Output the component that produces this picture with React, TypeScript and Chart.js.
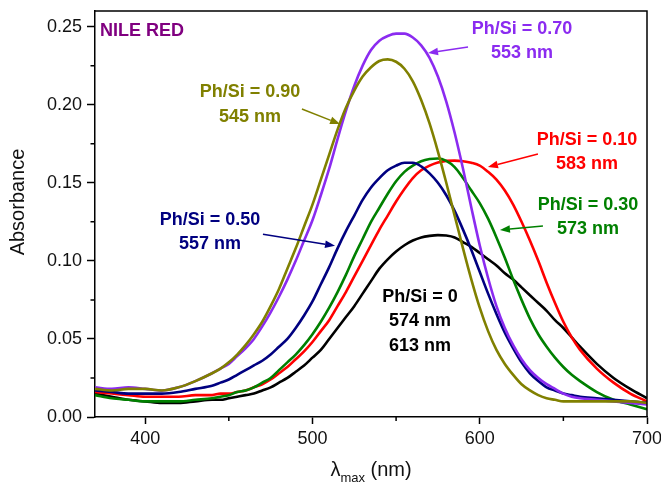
import React, { useEffect, useRef } from 'react';
import { Chart, registerables } from 'chart.js';

Chart.register(...registerables);

// ---------- data ----------
const wavelengths = [
  370, 380, 390, 400, 410, 420, 430,
  440, 445, 450, 455, 460, 465, 470, 475, 480, 485, 490, 495,
  500, 505, 510, 515, 520, 525, 530, 535, 540, 545, 550, 555, 560, 565, 570, 575, 580,
  585, 590, 595, 600, 605, 610, 615, 620, 625, 630, 635, 640, 645, 650, 655, 660,
  670, 680, 690, 700,
];

const absPh090 = [
  0.018, 0.017, 0.018, 0.018, 0.017, 0.019, 0.023,
  0.028, 0.031, 0.035, 0.040, 0.046, 0.053, 0.061, 0.071, 0.082, 0.095, 0.108, 0.122,
  0.136, 0.152, 0.168, 0.184, 0.198, 0.209, 0.218, 0.224, 0.228, 0.229, 0.2275, 0.223, 0.215, 0.203, 0.188, 0.170, 0.150,
  0.129, 0.108, 0.088, 0.070, 0.055, 0.043, 0.034, 0.027, 0.021, 0.017, 0.014, 0.012, 0.011, 0.010, 0.010, 0.010,
  0.010, 0.010, 0.010, 0.009,
];

const absPh070 = [
  0.019, 0.018, 0.019, 0.018, 0.017, 0.019, 0.023,
  0.028, 0.031, 0.034, 0.039, 0.044, 0.050, 0.058, 0.067, 0.077, 0.088, 0.100, 0.113,
  0.126, 0.142, 0.159, 0.178, 0.196, 0.212, 0.225, 0.235, 0.241, 0.244, 0.2455, 0.2455, 0.243, 0.238, 0.230, 0.218, 0.202,
  0.182, 0.159, 0.134, 0.110, 0.089, 0.071, 0.057, 0.046, 0.037, 0.030, 0.025, 0.021, 0.018, 0.015, 0.013, 0.012,
  0.011, 0.010, 0.009, 0.008,
];

const absPh050 = [
  0.017, 0.016, 0.015, 0.015, 0.015, 0.016, 0.018,
  0.020, 0.022, 0.024, 0.027, 0.030, 0.033, 0.036, 0.040, 0.045, 0.050, 0.057, 0.065,
  0.074, 0.085, 0.096, 0.108, 0.119, 0.129, 0.139, 0.147, 0.153, 0.158, 0.161, 0.1628, 0.1628, 0.1605, 0.156, 0.150, 0.142,
  0.132, 0.120, 0.107, 0.093, 0.079, 0.066, 0.054, 0.044, 0.035, 0.028, 0.023, 0.019, 0.017, 0.015, 0.014, 0.013,
  0.012, 0.011, 0.010, 0.009,
];

const absPh030 = [
  0.014, 0.012, 0.011, 0.010, 0.010, 0.010, 0.011,
  0.012, 0.013, 0.014, 0.016, 0.017, 0.019, 0.022, 0.025, 0.030, 0.035, 0.040, 0.046,
  0.053, 0.061, 0.070, 0.080, 0.091, 0.103, 0.114, 0.125, 0.134, 0.143, 0.151, 0.157, 0.161, 0.1638, 0.1652, 0.1655, 0.164,
  0.160, 0.153, 0.145, 0.137, 0.127, 0.115, 0.102, 0.088, 0.075, 0.063, 0.053, 0.045, 0.038, 0.032, 0.027, 0.023,
  0.016, 0.011, 0.008, 0.005,
];

const absPh010 = [
  0.016, 0.015, 0.014, 0.013, 0.013, 0.013, 0.014,
  0.014, 0.015, 0.015, 0.016, 0.017, 0.019, 0.021, 0.024, 0.028, 0.032, 0.037, 0.042,
  0.048, 0.055, 0.062, 0.071, 0.080, 0.090, 0.100, 0.110, 0.120, 0.129, 0.138, 0.146, 0.153, 0.158, 0.161, 0.163, 0.164,
  0.1642, 0.1638, 0.1628, 0.161, 0.157, 0.152, 0.145, 0.136, 0.125, 0.113, 0.100, 0.086, 0.073, 0.061, 0.051, 0.043,
  0.031, 0.022, 0.015, 0.010,
];

const absPh000 = [
  0.015, 0.013, 0.011, 0.010, 0.009, 0.009, 0.010,
  0.011, 0.011, 0.012, 0.013, 0.014, 0.015, 0.017, 0.019, 0.022, 0.025, 0.029, 0.033,
  0.038, 0.043, 0.050, 0.057, 0.064, 0.071, 0.079, 0.087, 0.095, 0.101, 0.106, 0.110, 0.113, 0.115, 0.116, 0.1165, 0.1162,
  0.115, 0.112, 0.109, 0.105, 0.101, 0.097, 0.092, 0.088, 0.083, 0.078, 0.073, 0.068, 0.062, 0.057, 0.051, 0.045,
  0.034, 0.025, 0.018, 0.012,
];

const seriesNames = ['Ph/Si = 0.90', 'Ph/Si = 0.70', 'Ph/Si = 0.50', 'Ph/Si = 0.30', 'Ph/Si = 0.10', 'Ph/Si = 0'];
const seriesValues = [absPh090, absPh070, absPh050, absPh030, absPh010, absPh000];

const xTickValues = [400, 500, 600, 700];
const xMinorTicks = [450, 550, 650];
const yTickValues = [0, 0.05, 0.1, 0.15, 0.2, 0.25];
const yMinorTicks = [0.025, 0.075, 0.125, 0.175, 0.225];

const titleText = 'NILE RED';
const peakLabels = [
  ['Ph/Si = 0.90', '545 nm'],
  ['Ph/Si = 0.70', '553 nm'],
  ['Ph/Si = 0.50', '557 nm'],
  ['Ph/Si = 0.30', '573 nm'],
  ['Ph/Si = 0.10', '583 nm'],
  ['Ph/Si = 0', '574 nm', '613 nm'],
];

// ---------- styles ----------
const COLORS = ['#808000', '#8B2BF0', '#000080', '#008000', '#FF0000', '#000000'];
const PURPLE = '#800080';
const FONT = '"Liberation Sans", Arial, Helvetica, sans-serif';

// label anchor (data coords) and arrow (from -> to, data coords)
const labelPlacement: { at: [number, number]; arrow?: [[number, number], [number, number]] }[] = [
  { at: [462.7, 0.2081], arrow: [[493.7, 0.1972], [516.5, 0.1876]] },
  { at: [625.3, 0.2485], arrow: [[593.0, 0.2369], [569.1, 0.2331]] },
  { at: [438.7, 0.1262], arrow: [[470.4, 0.117], [513.5, 0.1097]] },
  { at: [664.7, 0.1358], arrow: [[637.8, 0.1223], [612.1, 0.1198]] },
  { at: [664.1, 0.1774], arrow: [[634.8, 0.1684], [604.9, 0.1601]] },
  { at: [564.3, 0.077] },
];
const titlePlacement: [number, number] = [373.0, 0.2472];

const decorPlugin = {
  id: 'decor',
  afterDraw(chart: any) {
    const ctx = chart.ctx as CanvasRenderingContext2D;
    const xs = chart.scales.x;
    const ys = chart.scales.y;
    const area = chart.chartArea;
    ctx.save();

    // frame top & right
    ctx.strokeStyle = '#000';
    ctx.lineWidth = 1.5;
    ctx.beginPath();
    ctx.moveTo(area.left, area.top);
    ctx.lineTo(area.right, area.top);
    ctx.lineTo(area.right, area.bottom);
    ctx.stroke();

    // minor ticks
    ctx.beginPath();
    for (const v of xMinorTicks) {
      const px = xs.getPixelForValue(v);
      ctx.moveTo(px, area.bottom);
      ctx.lineTo(px, area.bottom + 4);
    }
    for (const v of yMinorTicks) {
      const py = ys.getPixelForValue(v);
      ctx.moveTo(area.left, py);
      ctx.lineTo(area.left - 4.5, py);
    }
    ctx.stroke();

    // axis titles
    ctx.fillStyle = '#111';
    ctx.font = `20px ${FONT}`;
    ctx.textBaseline = 'middle';
    ctx.textAlign = 'center';
    ctx.save();
    ctx.translate(18, 202);
    ctx.rotate(-Math.PI / 2);
    ctx.fillText('Absorbance', 0, 0);
    ctx.restore();

    // x title: λ_max (nm)
    const lam = 'λ';
    const sub = 'max';
    const rest = ' (nm)';
    ctx.font = `20px ${FONT}`;
    const wl = ctx.measureText(lam).width;
    const wr = ctx.measureText(rest).width;
    ctx.font = `13px ${FONT}`;
    const ws = ctx.measureText(sub).width;
    const total = wl + ws + wr;
    const cx = (area.left + area.right) / 2;
    let x0 = cx - total / 2;
    const yb = 476;
    ctx.textAlign = 'left';
    ctx.textBaseline = 'alphabetic';
    ctx.font = `20px ${FONT}`;
    ctx.fillText(lam, x0, yb);
    x0 += wl;
    ctx.font = `13px ${FONT}`;
    ctx.fillText(sub, x0, yb + 6);
    x0 += ws;
    ctx.font = `20px ${FONT}`;
    ctx.fillText(rest, x0, yb);

    // NILE RED
    ctx.font = `bold 18px ${FONT}`;
    ctx.fillStyle = PURPLE;
    ctx.textAlign = 'left';
    ctx.textBaseline = 'middle';
    ctx.fillText(titleText, xs.getPixelForValue(titlePlacement[0]), ys.getPixelForValue(titlePlacement[1]));

    // peak labels + arrows
    peakLabels.forEach((lines, i) => {
      const p = labelPlacement[i];
      const color = COLORS[i];
      ctx.fillStyle = color;
      ctx.strokeStyle = color;
      ctx.font = `bold 18px ${FONT}`;
      ctx.textAlign = 'center';
      ctx.textBaseline = 'middle';
      const lx = xs.getPixelForValue(p.at[0]);
      const ly = ys.getPixelForValue(p.at[1]);
      lines.forEach((t, k) => ctx.fillText(t, lx, ly + k * 24.5));
      if (p.arrow) {
        const [a, b] = p.arrow;
        const x1 = xs.getPixelForValue(a[0]);
        const y1 = ys.getPixelForValue(a[1]);
        const x2 = xs.getPixelForValue(b[0]);
        const y2 = ys.getPixelForValue(b[1]);
        const ang = Math.atan2(y2 - y1, x2 - x1);
        const hl = 10;
        const hw = 3.8;
        const bx = x2 - hl * Math.cos(ang);
        const by = y2 - hl * Math.sin(ang);
        ctx.lineWidth = 1.5;
        ctx.beginPath();
        ctx.moveTo(x1, y1);
        ctx.lineTo(bx, by);
        ctx.stroke();
        ctx.beginPath();
        ctx.moveTo(x2, y2);
        ctx.lineTo(bx + hw * Math.sin(ang), by - hw * Math.cos(ang));
        ctx.lineTo(bx - hw * Math.sin(ang), by + hw * Math.cos(ang));
        ctx.closePath();
        ctx.fill();
      }
    });

    ctx.restore();
  },
};

export default function App() {
  const canvasRef = useRef<HTMLCanvasElement | null>(null);

  useEffect(() => {
    const canvas = canvasRef.current;
    if (!canvas) return;
    const datasets = seriesValues.map((vals, i) => ({
      label: seriesNames[i],
      data: wavelengths.map((w, j) => ({ x: w, y: vals[j] })),
      borderColor: COLORS[i],
      backgroundColor: COLORS[i],
      borderWidth: 2.6,
      pointRadius: 0,
      fill: false,
      cubicInterpolationMode: 'monotone' as const,
    }));

    const chart = new Chart(canvas, {
      type: 'line',
      data: { datasets },
      options: {
        animation: false,
        responsive: false,
        devicePixelRatio: 1,
        layout: { padding: { top: 11, right: 14, left: 0, bottom: 0 } },
        plugins: {
          legend: { display: false },
          tooltip: { enabled: false },
          title: { display: false },
        },
        scales: {
          x: {
            type: 'linear',
            min: 370,
            max: 700,
            afterBuildTicks: (s: any) => {
              s.ticks = xTickValues.map((v) => ({ value: v }));
            },
            afterFit: (s: any) => {
              s.height = 67;
              s.paddingLeft = 0;
              s.paddingRight = 0;
            },
            ticks: {
              color: '#111',
              font: { family: FONT, size: 18 },
              padding: 4,
              maxRotation: 0,
              autoSkip: false,
              callback: (v: any) => String(v),
            },
            grid: {
              display: true,
              drawOnChartArea: false,
              drawTicks: true,
              tickLength: 7,
              tickColor: '#000',
              tickWidth: 1.5,
            },
            border: { display: true, color: '#000', width: 1.5 },
          },
          y: {
            type: 'linear',
            min: 0,
            max: 0.26,
            afterBuildTicks: (s: any) => {
              s.ticks = yTickValues.map((v) => ({ value: v }));
            },
            afterFit: (s: any) => {
              s.width = 95;
              s.paddingTop = 0;
              s.paddingBottom = 0;
            },
            ticks: {
              color: '#111',
              font: { family: FONT, size: 18 },
              padding: 5,
              autoSkip: false,
              callback: (v: any) => Number(v).toFixed(2),
            },
            grid: {
              display: true,
              drawOnChartArea: false,
              drawTicks: true,
              tickLength: 8,
              tickColor: '#000',
              tickWidth: 1.5,
            },
            border: { display: true, color: '#000', width: 1.5 },
          },
        },
      },
      plugins: [decorPlugin],
    });
    return () => chart.destroy();
  }, []);

  return (
    <div style={{ position: 'absolute', left: 0, top: 0, width: 661, height: 484, background: '#fff' }}>
      <canvas ref={canvasRef} width={661} height={484} style={{ width: 661, height: 484, display: 'block' }} />
    </div>
  );
}
